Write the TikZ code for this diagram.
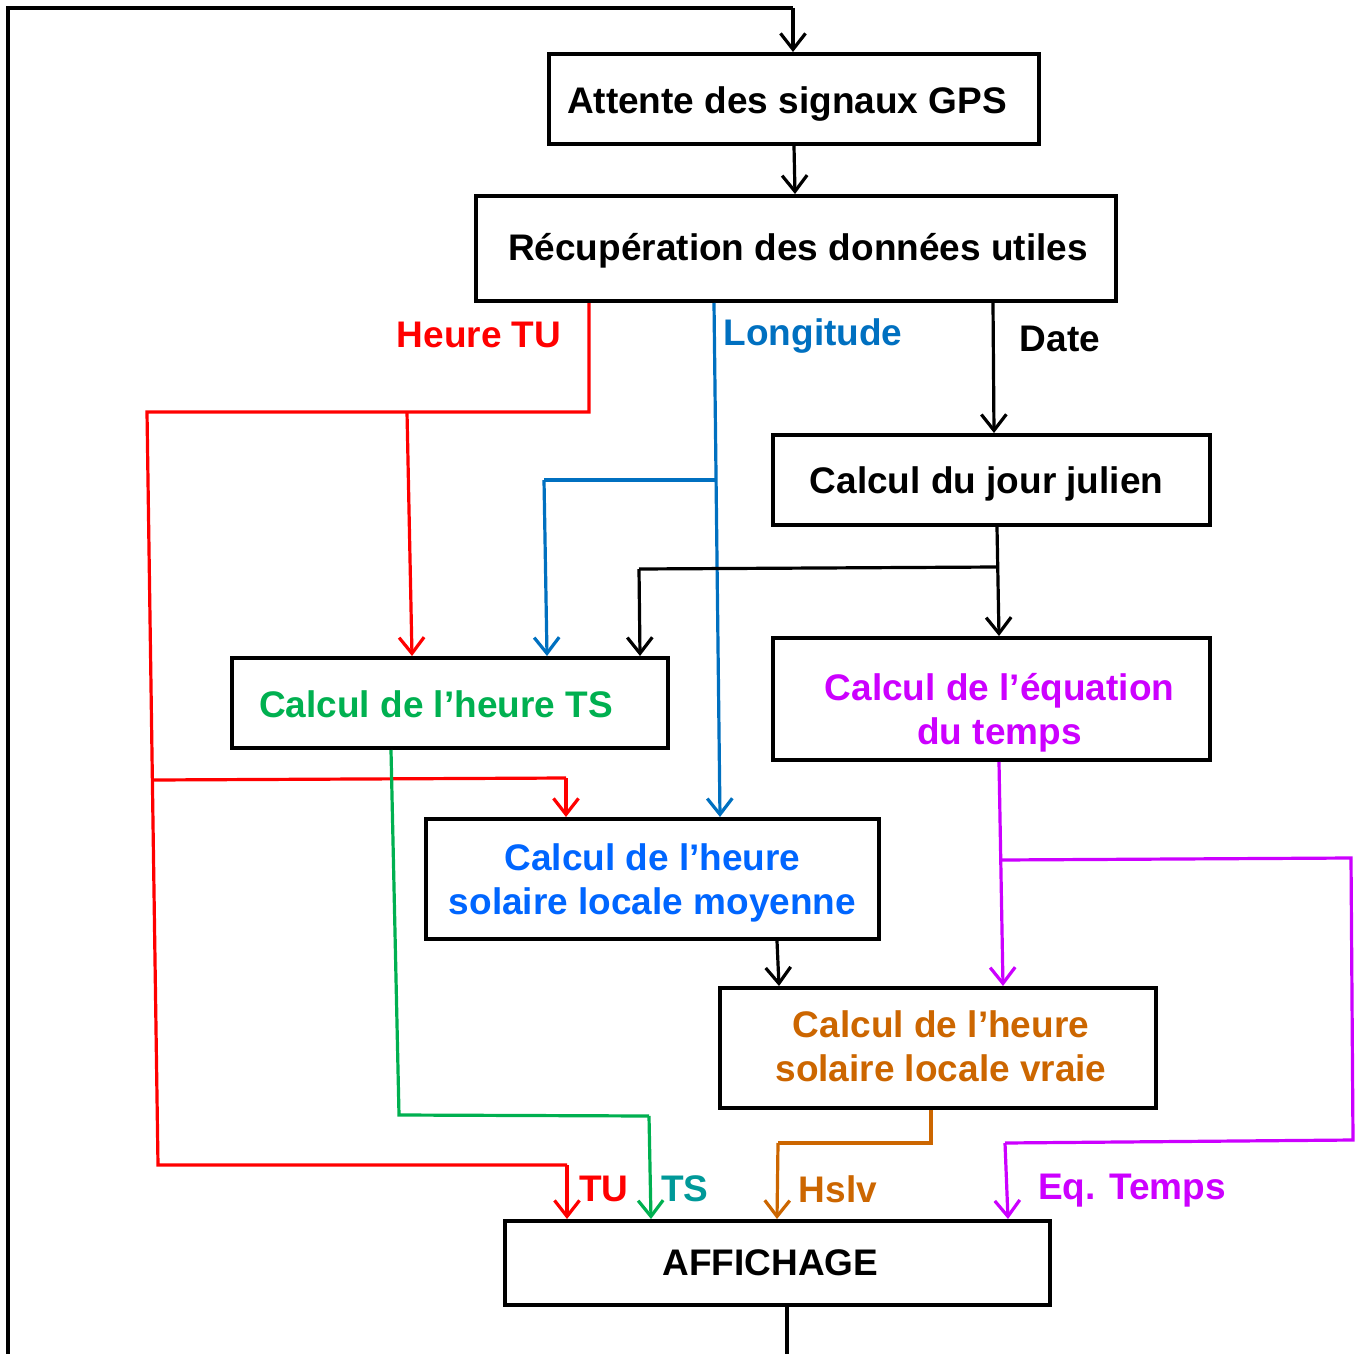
\documentclass[tikz,border=0pt]{standalone}
\usepackage{fontspec}
\setmainfont{Liberation Sans}
\usetikzlibrary{arrows.meta}
\definecolor{cred}{HTML}{FF0000}
\definecolor{clong}{HTML}{0070C0}
\definecolor{cmoy}{HTML}{0066FF}
\definecolor{cgreen}{HTML}{00B050}
\definecolor{cmag}{HTML}{CC00FF}
\definecolor{corange}{HTML}{CC6600}
\definecolor{cteal}{HTML}{009999}
\tikzset{
  box/.style={draw=black, line width=4pt, fill=white, inner sep=0pt},
  boxtext/.style={align=center, font=\fontsize{37}{44}\selectfont\bfseries, inner sep=0pt},
  conn/.style={line width=3.2pt, -{Straight Barb[length=16pt,width=25pt]}},
  seg/.style={line width=3.2pt},
  lab/.style={font=\fontsize{37}{44}\selectfont\bfseries, inner sep=0pt}
}
\begin{document}
\begin{tikzpicture}[x=1pt,y=-1pt]
\useasboundingbox (0,0) rectangle (1355,1354);
\clip (0,0) rectangle (1355,1354);
\fill[white] (0,0) rectangle (1355,1354);

% boxes (text placed as centred labels, slightly offset as in the reference)
\node[box, minimum width=490pt, minimum height=90pt,
  label={[boxtext, xshift=-7pt, yshift=-5pt]center:Attente des signaux GPS}] (att) at (794,99) {};
\node[box, minimum width=640pt, minimum height=105pt,
  label={[boxtext, xshift=2pt, yshift=-2pt]center:Récupération des données utiles}] (rec) at (796,248.5) {};
\node[box, minimum width=437pt, minimum height=90pt,
  label={[boxtext, xshift=-5pt, yshift=-4pt]center:Calcul du jour julien}] (jj) at (991.5,480) {};
\node[box, minimum width=436pt, minimum height=90pt,
  label={[boxtext, text=cgreen, xshift=-14pt, yshift=-1pt]center:Calcul de l’heure TS}] (ts) at (450,703) {};
\node[box, minimum width=437pt, minimum height=122pt,
  label={[boxtext, text=cmag, xshift=8pt, yshift=-14pt]center:{Calcul de l’équation\\du temps}}] (eq) at (991.5,699) {};
\node[box, minimum width=453pt, minimum height=120pt,
  label={[boxtext, text=cmoy, xshift=0pt, yshift=-4pt]center:{Calcul de l’heure\\solaire locale moyenne}}] (moy) at (652.5,879) {};
\node[box, minimum width=436pt, minimum height=120pt,
  label={[boxtext, text=corange, xshift=3pt, yshift=2pt]center:{Calcul de l’heure\\solaire locale vraie}}] (vr) at (938,1048) {};
\node[box, minimum width=545pt, minimum height=84pt,
  label={[boxtext, xshift=-7pt, yshift=0pt]center:AFFICHAGE}] (aff) at (777.5,1263) {};

% helper coordinates
\coordinate (xa) at (793,0);
\coordinate (xb) at (794,0);
\coordinate (xc) at (795,0);
\coordinate (r0) at (589,0);
\coordinate (r1) at (589,412);
\coordinate (r2) at (147,412);
\coordinate (r3) at (407,412);
\coordinate (r3e) at (412,0);
\coordinate (r4) at (158,1165);
\coordinate (r5) at (567,1165);
\coordinate (r6) at (153,780);
\coordinate (r7) at (566,778);
\coordinate (b0) at (714,0);
\coordinate (b1) at (716,480);
\coordinate (b2) at (544,480);
\coordinate (b2e) at (547,0);
\coordinate (b3) at (720,0);
\coordinate (d0) at (993,0);
\coordinate (d1) at (994,0);
\coordinate (k0) at (997,0);
\coordinate (k1) at (997,567);
\coordinate (k2) at (639,569);
\coordinate (k2e) at (640,0);
\coordinate (k3) at (999,0);
\coordinate (g0) at (391,0);
\coordinate (g1) at (399,1115);
\coordinate (g2) at (649,1116);
\coordinate (g3) at (651,0);
\coordinate (s0) at (777,0);
\coordinate (s1) at (779,0);
\coordinate (m0) at (999,0);
\coordinate (m1) at (1001,860);
\coordinate (m2) at (1351,858);
\coordinate (m3) at (1353,1140);
\coordinate (m4) at (1005,1143);
\coordinate (m5) at (1008,0);
\coordinate (m6) at (1003,0);
\coordinate (o0) at (931,0);
\coordinate (o1) at (931,1143);
\coordinate (o2) at (778,1143);
\coordinate (o3) at (777,0);
\coordinate (l0) at (787,0);
\coordinate (l1) at (787,1370);
\coordinate (l2) at (8,1370);
\coordinate (l3) at (8,8);
\coordinate (l4) at (793,8);

% loop
\draw[seg] (aff.south -| l0) -- (l1) -- (l2) -- (l3) -- (l4);
\draw[conn] (l4) -- (att.north -| xa);
% attente -> recuperation
\draw[conn] (att.south -| xb) -- (rec.north -| xc);

% red (Heure TU)
\draw[seg, cred] (rec.south -| r0) -- (r1) -- (r2) -- (r4) -- (r5);
\draw[conn, cred] (r5) -- (aff.north -| r5);
\draw[conn, cred] (r3) -- (ts.north -| r3e);
\draw[seg, cred] (r6) -- (r7);
\draw[conn, cred] (r7) -- (moy.north -| r7);

% blue (Longitude)
\draw[conn, clong] (rec.south -| b0) -- (moy.north -| b3);
\draw[seg, clong] (b1) -- (b2);
\draw[conn, clong] (b2) -- (ts.north -| b2e);

% black (Date)
\draw[conn] (rec.south -| d0) -- (jj.north -| d1);
\draw[conn] (jj.south -| k0) -- (eq.north -| k3);
\draw[seg] (k1) -- (k2);
\draw[conn] (k2) -- (ts.north -| k2e);

% green (TS)
\draw[seg, cgreen] (ts.south -| g0) -- (g1) -- (g2);
\draw[conn, cgreen] (g2) -- (aff.north -| g3);

% moyenne -> vraie
\draw[conn] (moy.south -| s0) -- (vr.north -| s1);

% magenta (equation du temps)
\draw[conn, cmag] (eq.south -| m0) -- (vr.north -| m6);
\draw[seg, cmag] (m1) -- (m2) -- (m3) -- (m4);
\draw[conn, cmag] (m4) -- (aff.north -| m5);

% orange (Hslv)
\draw[seg, corange] (vr.south -| o0) -- (o1) -- (o2);
\draw[conn, corange] (o2) -- (aff.north -| o3);

% labels
\node[lab, text=cred] (lhtu) at (479,335) {Heure TU};
\node[lab, text=clong] (llong) at (813,336) {Longitude};
\node[lab] (ldate) at (1060,339) {Date};
\node[lab, text=cred] (ltu) at (604,1189) {TU};
\node[lab, text=cteal] (lts) at (685,1189) {TS};
\node[lab, text=corange] (lhslv) at (838,1189) {Hslv};
\node[lab, text=cmag] (leq) at (1132,1191) {Eq. Temps};
\end{tikzpicture}
\end{document}
